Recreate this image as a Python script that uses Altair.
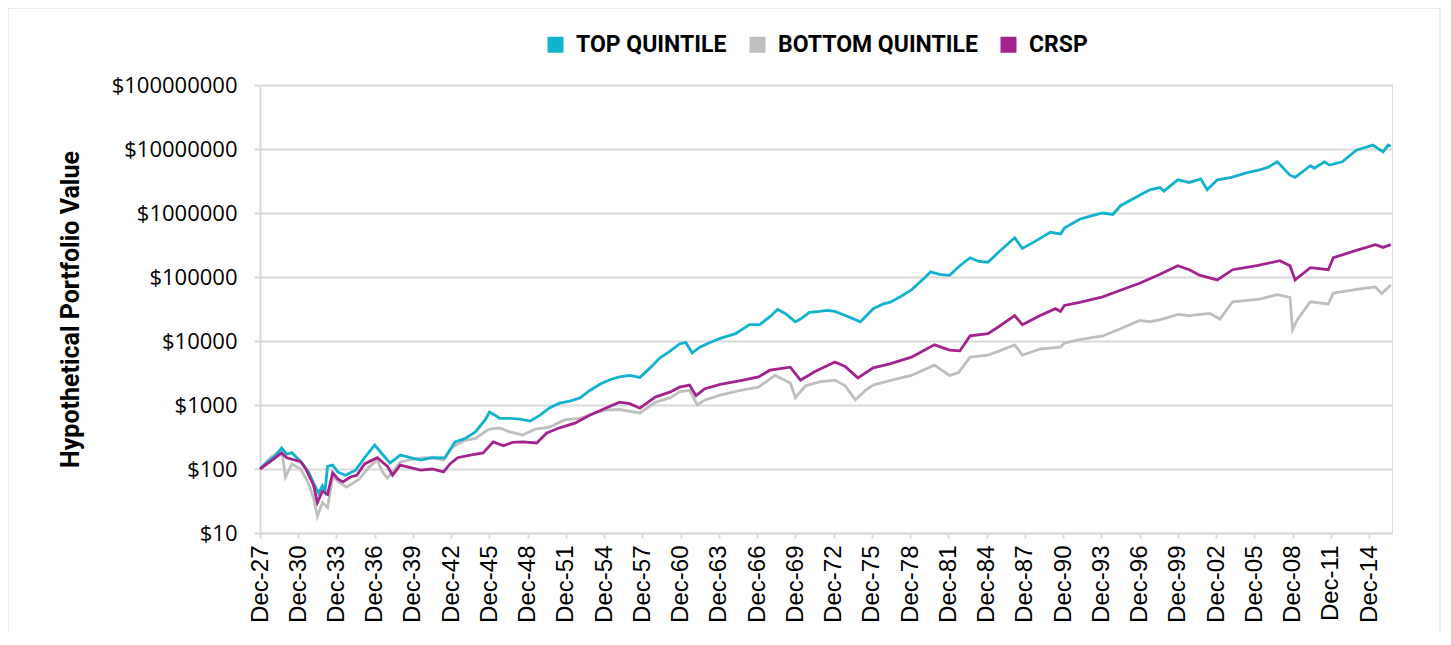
import altair as alt
import pandas as pd

SERIES = ["TOP QUINTILE", "BOTTOM QUINTILE", "CRSP"]
COLORS = ["#12B2CF", "#BFBFBF", "#A3228E"]

TICK_YEARS = [1927.9 + 3 * k for k in range(30)]
Y_TICKS = [10, 100, 1000, 10000, 100000, 1000000, 10000000, 100000000]

top_years = [1927.9, 1928.5, 1929.1, 1929.6, 1930.0, 1930.4, 1931.1, 1931.7, 1932.1, 1932.5,
             1932.8, 1933.0, 1933.2, 1933.6, 1934.0, 1934.6, 1935.4, 1936.1, 1936.9, 1937.5,
             1938.1, 1938.9, 1939.7, 1940.5, 1941.4, 1942.4, 1942.8, 1943.2, 1944.0, 1944.8,
             1945.6, 1945.9, 1946.3, 1946.7, 1947.5, 1948.3, 1949.1, 1949.9, 1950.6, 1951.4,
             1952.2, 1953.0, 1953.8, 1954.6, 1955.4, 1956.1, 1956.9, 1957.7, 1958.5, 1959.3,
             1960.1, 1960.8, 1961.3, 1961.8, 1962.4, 1963.2, 1964.0, 1965.2, 1966.3, 1967.1,
             1967.9, 1968.5, 1969.1, 1969.9, 1970.3, 1971.0, 1971.8, 1972.4, 1973.0, 1973.8,
             1974.5, 1975.0, 1976.0, 1976.8, 1977.3, 1978.2, 1979.0, 1980.1, 1980.5, 1981.2,
             1982.0, 1982.8, 1983.6, 1984.3, 1985.0, 1985.9, 1987.1, 1987.7, 1988.7, 1989.9,
             1990.7, 1991.0, 1992.2, 1993.1, 1994.0, 1994.8, 1995.4, 1996.9, 1997.7, 1998.5,
             1998.8, 1999.9, 2000.8, 2001.7, 2002.2, 2003.0, 2004.1, 2005.2, 2006.3, 2007.0,
             2007.7, 2008.7, 2009.1, 2010.3, 2010.6, 2011.4, 2011.8, 2012.8, 2013.9, 2015.2,
             2016.0, 2016.4, 2016.6]
top_values = [100, 130, 160, 213, 170, 180, 130, 90, 60, 42,
              55, 45, 110, 115, 90, 80, 96, 150, 237, 170,
              124, 165, 150, 138, 150, 149, 200, 264, 300, 380,
              600, 777, 700, 620, 620, 600, 560, 700, 900, 1070,
              1150, 1290, 1700, 2130, 2500, 2750, 2900, 2700, 3800, 5500,
              7000, 9000, 9500, 6500, 8000, 9500, 11000, 13000, 18000, 18000,
              24000, 31000, 27000, 20000, 22000, 28000, 29000, 30000, 29000, 25000,
              22000, 20000, 32000, 38000, 40000, 50000, 63000, 100000, 120000, 110000,
              106000, 150000, 200000, 175000, 170000, 250000, 410000, 280000, 360000, 500000,
              470000, 580000, 800000, 900000, 1000000, 950000, 1300000, 1900000, 2300000, 2500000,
              2200000, 3300000, 3000000, 3400000, 2300000, 3300000, 3600000, 4200000, 4700000, 5200000,
              6300000, 3900000, 3600000, 5500000, 5000000, 6300000, 5600000, 6300000, 9600000, 11500000,
              9000000, 11500000, 11000000]

bottom_years = [1927.9, 1928.7, 1929.6, 1929.9, 1930.4, 1931.1, 1931.7, 1932.1, 1932.4, 1932.8,
                1933.2, 1933.6, 1934.2, 1934.7, 1935.7, 1936.5, 1937.1, 1937.5, 1937.9, 1938.9,
                1939.7, 1940.5, 1941.4, 1942.3, 1943.0, 1944.0, 1944.8, 1945.4, 1945.9, 1946.7,
                1947.5, 1948.5, 1949.5, 1950.6, 1951.8, 1953.0, 1954.2, 1955.0, 1956.1, 1957.7,
                1958.9, 1960.1, 1960.8, 1961.6, 1962.2, 1962.8, 1964.0, 1965.6, 1967.0, 1968.3,
                1969.5, 1969.9, 1970.7, 1971.8, 1973.0, 1973.8, 1974.6, 1975.4, 1976.0, 1977.3,
                1979.0, 1980.8, 1982.0, 1982.7, 1983.6, 1985.0, 1985.9, 1987.1, 1987.7, 1989.1,
                1990.7, 1991.0, 1992.2, 1994.0, 1995.4, 1996.9, 1997.7, 1998.7, 1999.9, 2000.8,
                2002.4, 2003.2, 2004.2, 2006.3, 2007.7, 2008.7, 2008.9, 2009.3, 2010.3, 2011.7,
                2012.1, 2014.2, 2015.4, 2015.9, 2016.6]
bottom_values = [100, 150, 200, 75, 120, 100, 60, 35, 18, 30,
                 25, 75, 60, 52, 70, 110, 138, 90, 72, 128,
                 140, 149, 150, 138, 220, 280, 300, 365, 420, 437,
                 380, 340, 420, 450, 585, 620, 750, 830, 850, 750,
                 1100, 1300, 1600, 1700, 1000, 1200, 1430, 1700, 1900, 2900,
                 2200, 1300, 2000, 2300, 2450, 2000, 1200, 1700, 2050, 2400,
                 2900, 4200, 2900, 3200, 5600, 6000, 7000, 8700, 6000, 7500,
                 8000, 9300, 10500, 12000, 15500, 21000, 20000, 22000, 26000, 25000,
                 27000, 22000, 41000, 45000, 53000, 48000, 15000, 22000, 41000, 38000,
                 56000, 65000, 70000, 55000, 75000]

crsp_years = [1927.9, 1928.7, 1929.6, 1930.0, 1931.1, 1931.5, 1932.1, 1932.4, 1932.8, 1933.2,
              1933.6, 1934.0, 1934.4, 1935.0, 1935.5, 1936.1, 1937.1, 1937.9, 1938.3, 1938.9,
              1939.7, 1940.5, 1941.4, 1942.3, 1942.8, 1943.4, 1944.4, 1945.4, 1946.2, 1947.0,
              1947.7, 1948.5, 1949.6, 1950.4, 1951.4, 1952.6, 1953.8, 1955.0, 1956.1, 1956.9,
              1957.7, 1958.9, 1960.1, 1960.8, 1961.6, 1962.1, 1962.8, 1964.0, 1965.6, 1967.0,
              1967.9, 1969.5, 1970.3, 1971.4, 1973.0, 1973.8, 1974.8, 1976.0, 1977.3, 1979.0,
              1980.8, 1982.0, 1982.8, 1983.6, 1985.0, 1985.9, 1987.1, 1987.7, 1989.1, 1990.3,
              1990.7, 1991.0, 1992.2, 1994.0, 1995.4, 1996.9, 1998.5, 1999.9, 2000.8, 2001.6,
              2003.0, 2004.2, 2006.1, 2007.9, 2008.7, 2009.1, 2010.3, 2011.7, 2012.1, 2013.9,
              2015.4, 2016.0, 2016.6]
crsp_values = [100, 130, 178, 150, 130, 100, 56, 30, 45, 40,
               87, 70, 63, 75, 80, 120, 150, 110, 80, 115,
               105, 96, 100, 90, 120, 150, 165, 178, 265, 230,
               260, 265, 255, 365, 440, 520, 700, 890, 1110, 1050,
               890, 1330, 1600, 1900, 2050, 1400, 1800, 2100, 2400, 2750,
               3500, 3900, 2450, 3300, 4700, 4000, 2650, 3800, 4400, 5600,
               8700, 7200, 7000, 12000, 13000, 17000, 25000, 18000, 25000, 32000,
               29000, 36000, 40000, 49000, 62000, 80000, 110000, 150000, 130000, 107000,
               90000, 130000, 150000, 180000, 150000, 90000, 140000, 130000, 200000, 260000,
               320000, 290000, 320000]

def frame(name, years, values):
    return pd.DataFrame({"series": name, "year": years, "value": values})

df_top = frame(SERIES[0], top_years, top_values)
df_bot = frame(SERIES[1], bottom_years, bottom_values)
df_crsp = frame(SERIES[2], crsp_years, crsp_values)

PLOT_W, PLOT_H = 1132, 448

x_enc = alt.X(
    "year:Q",
    scale=alt.Scale(domain=[1927.9, 2016.7], nice=False, zero=False),
    axis=alt.Axis(
        values=TICK_YEARS,
        labelExpr="'Dec-' + format(floor(datum.value) % 100, '02d')",
        labelAngle=270,
        labelFont="Liberation Sans",
        labelFontSize=24,
        labelColor="#000000",
        labelPadding=7,
        tickSize=5,
        tickColor="#d9d9d9",
        tickWidth=2,
        domainColor="#d9d9d9",
        domainWidth=2,
        grid=False,
        title=None,
        labelOverlap=False,
    ),
)
y_enc = alt.Y(
    "value:Q",
    scale=alt.Scale(type="log", domain=[10, 100000000], nice=False),
    axis=alt.Axis(
        values=Y_TICKS,
        labelExpr="'$' + format(datum.value, 'd')",
        labelFont="Open Sans",
        labelFontSize=22,
        labelColor="#000000",
        labelPadding=17,
        tickSize=6,
        tickColor="#d9d9d9",
        tickWidth=2,
        domainColor="#d9d9d9",
        domainWidth=2,
        gridColor="#d9d9d9",
        gridWidth=2,
        title="Hypothetical Portfolio Value",
        titleFont="Roboto",
        titleFontWeight="bold",
        titleFontSize=25,
        titleColor="#000000",
        titleAngle=270,
        titleX=-190,
        titleY=224,
        titleAlign="center",
        titleBaseline="middle",
        labelOverlap=False,
    ),
)
color_enc = alt.Color(
    "series:N",
    scale=alt.Scale(domain=SERIES, range=COLORS),
    sort=SERIES,
    legend=alt.Legend(
        title=None,
        orient="none",
        direction="horizontal",
        legendX=284,
        legendY=-52,
        symbolType="square",
        symbolSize=64,
        symbolStrokeWidth=8,
        labelFont="Roboto",
        labelFontWeight="bold",
        labelFontSize=23,
        labelColor="#000000",
        labelOffset=9,
        labelLimit=0,
        columnPadding=10,
        padding=0,
    ),
)

def line(df):
    return alt.Chart(df).mark_line(strokeWidth=2.8, interpolate="linear").encode(
        x=x_enc, y=y_enc, color=color_enc
    )

border = alt.Chart(pd.DataFrame({"k": [0]})).mark_rule(color="#d9d9d9", strokeWidth=1)
border_left = border.encode(x=alt.value(-252), y=alt.value(-77), y2=alt.value(560))
border_right = border.encode(x=alt.value(1180), y=alt.value(-77), y2=alt.value(560))
border_top = border.encode(x=alt.value(-252), x2=alt.value(1180), y=alt.value(-77))

chart = alt.layer(
    line(df_bot), line(df_top), line(df_crsp), border_left, border_right, border_top
).properties(
    width=PLOT_W,
    height=PLOT_H,
    autosize=alt.AutoSizeParams(type="none"),
    padding={"left": 252, "top": 77, "right": 51, "bottom": 100},
).configure_view(stroke=None).configure(background="#ffffff")

chart.save("out.html", embed_options={"renderer": "svg", "actions": False})
